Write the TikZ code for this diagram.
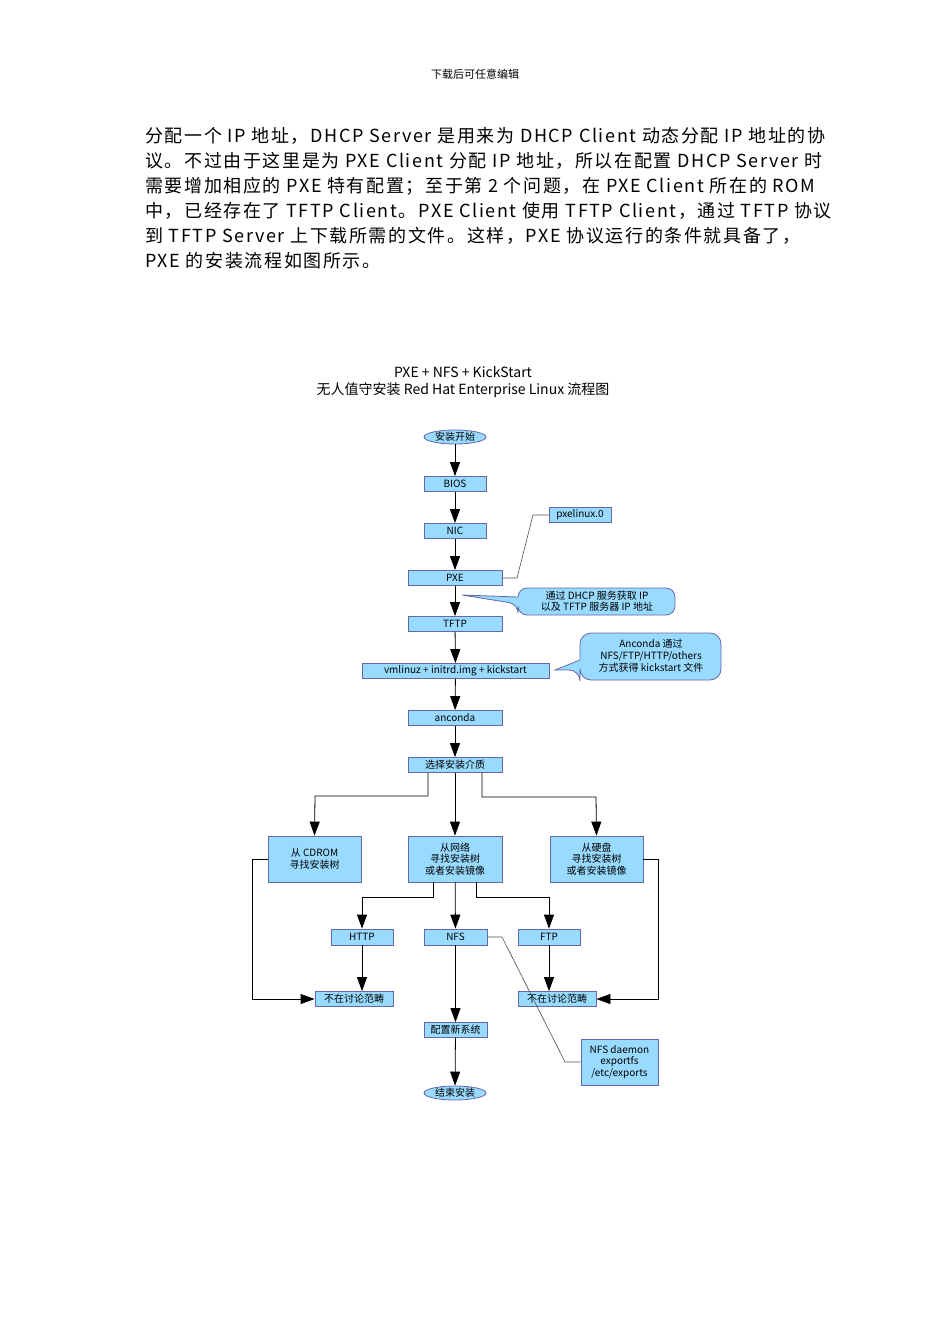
\documentclass[tikz,border=0pt]{standalone}
\usepackage{fontspec}
\setmainfont{Noto Sans CJK SC}
\newfontfamily\parafont[LetterSpace=9]{Noto Sans CJK SC}
\usetikzlibrary{arrows.meta,shapes.geometric}
\begin{document}
\begin{tikzpicture}[x=1pt,y=-1pt,
 bx/.style={draw=black!55!blue!60,fill=blue!35!cyan!40!white,line width=0.8pt,inner sep=0pt,font=\fontsize{10}{11.5}\selectfont,align=center},
 ar/.style={-{Triangle[width=10pt,length=14pt]},line width=0.8pt},
 ln/.style={draw=black!70,line width=0.6pt},
 para/.style={anchor=west,font=\parafont\fontsize{18}{20}\selectfont,inner sep=0pt}]
\useasboundingbox (0,0) rectangle (950,1344);
\node[font=\fontsize{11}{13}\selectfont] (hdr) at (475,74) {下载后可任意编辑};
\node[para] (p1) at (145,136) {分配一个 IP 地址，DHCP Server 是用来为 DHCP Client 动态分配 IP 地址的协};
\node[para] (p2) at (145,161) {议。不过由于这里是为 PXE Client 分配 IP 地址，所以在配置 DHCP Server 时};
\node[para] (p3) at (145,186) {需要增加相应的 PXE 特有配置；至于第 2 个问题，在 PXE Client 所在的 ROM};
\node[para] (p4) at (145,211) {中，已经存在了 TFTP Client。PXE Client 使用 TFTP Client，通过 TFTP 协议};
\node[para] (p5) at (145,236) {到 TFTP Server 上下载所需的文件。这样，PXE 协议运行的条件就具备了，};
\node[para] (p6) at (145,261) {PXE 的安装流程如图所示。};
\node[font=\fontsize{14}{16}\selectfont] (t1) at (463,372) {PXE + NFS + KickStart};
\node[font=\fontsize{14}{16}\selectfont] (t2) at (463,390) {无人值守安装 Red Hat Enterprise Linux 流程图};

\node[bx,ellipse,minimum width=62pt,minimum height=14pt] (start) at (455,437) {安装开始};
\node[bx,minimum width=62pt,minimum height=15pt] (bios) at (455,484) {BIOS};
\node[bx,minimum width=62pt,minimum height=15pt] (nic) at (455,531) {NIC};
\node[bx,minimum width=94pt,minimum height=15pt] (pxe) at (455,578) {PXE};
\node[bx,minimum width=62pt,minimum height=15pt] (pxel) at (580,515) {pxelinux.0};
\node[bx,minimum width=94pt,minimum height=15pt] (tftp) at (455,624) {TFTP};
\node[bx,minimum width=187pt,minimum height=15pt] (vm) at (455.5,671) {vmlinuz + initrd.img + kickstart};
\node[bx,minimum width=94pt,minimum height=15pt] (anc) at (455,718) {anconda};
\node[bx,minimum width=94pt,minimum height=15pt] (sel) at (455,765) {选择安装介质};
\node[bx,minimum width=93pt,minimum height=46pt] (cd) at (314.5,859) {从 CDROM\\寻找安装树};
\node[bx,minimum width=94pt,minimum height=46pt] (net) at (455,859) {从网络\\寻找安装树\\或者安装镜像};
\node[bx,minimum width=93pt,minimum height=46pt] (hd) at (596.5,859) {从硬盘\\寻找安装树\\或者安装镜像};
\node[bx,minimum width=62pt,minimum height=16pt] (http) at (362,937) {HTTP};
\node[bx,minimum width=63pt,minimum height=16pt] (nfs) at (455.5,937) {NFS};
\node[bx,minimum width=62pt,minimum height=16pt] (ftp) at (549,937) {FTP};
\node[bx,minimum width=78pt,minimum height=15pt] (nl) at (354,999) {不在讨论范畴};
\node[bx,minimum width=78pt,minimum height=15pt] (nr) at (557,999) {不在讨论范畴};
\node[bx,minimum width=63pt,minimum height=15pt] (cfg) at (455.5,1030) {配置新系统};
\node[bx,ellipse,minimum width=62pt,minimum height=14pt] (end) at (455,1093) {结束安装};
\node[bx,minimum width=77pt,minimum height=46pt] (nd) at (619.5,1062) {NFS daemon\\exportfs\\/etc/exports};

% callouts
\draw[draw=black!55!blue!60,fill=blue!35!cyan!40!white,line width=0.8pt,rounded corners=9pt]
 (518,597) -- (518,588) -- (675,588) -- (675,615) -- (518,615) -- (518,604) [sharp corners] -- (462,595) -- cycle;
\node[font=\fontsize{10}{11.5}\selectfont,align=center] (c1) at (597,601) {通过 DHCP 服务获取 IP\\以及 TFTP 服务器 IP 地址};
\draw[draw=black!55!blue!60,fill=blue!35!cyan!40!white,line width=0.8pt,rounded corners=11pt]
 (580,660) -- (580,633) -- (721,633) -- (721,680) -- (580,680) -- (580,670) [sharp corners] -- (555,670) -- cycle;
\node[font=\fontsize{10}{12}\selectfont,align=center] (c2) at (651,656) {Anconda 通过\\NFS/FTP/HTTP/others\\方式获得 kickstart 文件};

\draw[ar] (start) -- (bios);
\draw[ar] (bios) -- (nic);
\draw[ar] (nic) -- (pxe);
\draw[ar] (pxe) -- (tftp);
\draw[ar] (tftp) -- (vm);
\draw[ar] (vm) -- (anc);
\draw[ar] (anc) -- (sel);
\draw[ar] (sel) -- (net);
\draw[ar] (sel.south -| 428,0) |- (315,796) -- (cd.north);
\draw[ar] (sel.south -| 482,0) |- (596,797) -- (hd.north);
\draw[ar] (net) -- (nfs);
\draw[ar] (net.south -| 433,0) |- (362,897) -- (http.north);
\draw[ar] (net.south -| 476,0) |- (549,897) -- (ftp.north);
\draw[ar] (http) -- (http |- nl.north);
\draw[ar] (ftp) -- (ftp |- nr.north);
\draw[ar] (cd.west) -- (252,859) |- (nl.west);
\draw[ar] (hd.east) -- (658,859) |- (nr.east);
\draw[ar] (nfs) -- (cfg);
\draw[ar] (cfg) -- (end);
\draw[ln] (pxe.east) -- (517,578) -- (533,515) -- (pxel.west);
\draw[ln] (nfs.east) -- (502,937) -- (565,1062) -- (nd.west);
\end{tikzpicture}
\end{document}
